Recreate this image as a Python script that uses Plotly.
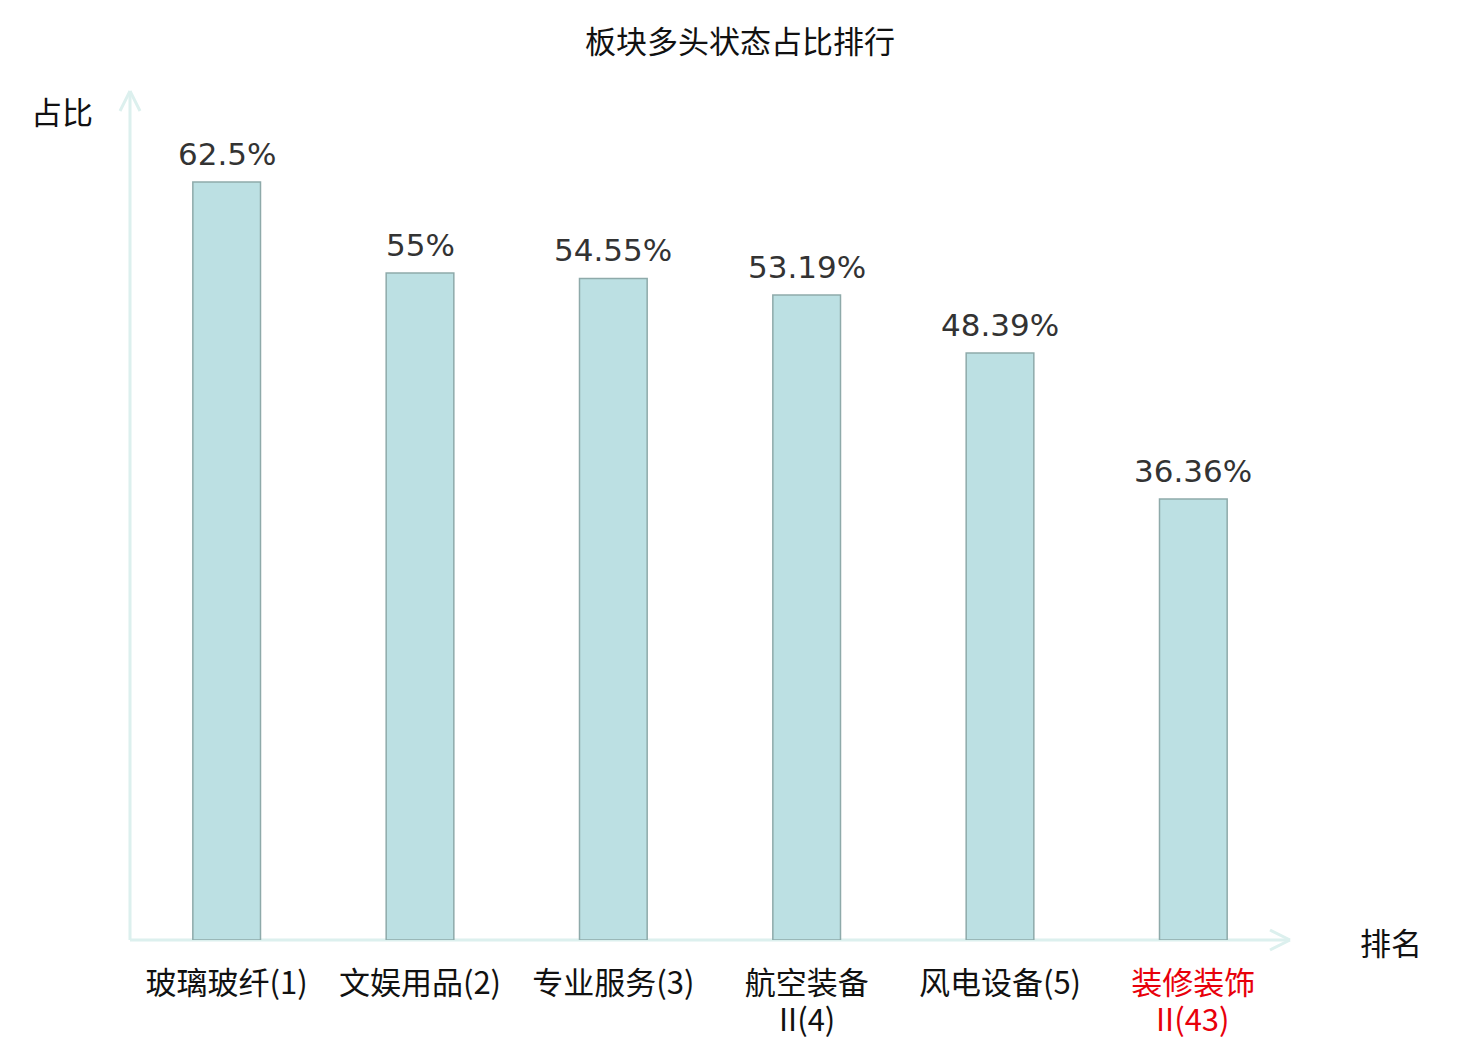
import plotly.graph_objects as go

# 板块多头状态占比排行
sectors = ["玻璃玻纤(1)", "文娱用品(2)", "专业服务(3)", "航空装备", "风电设备(5)", "装修装饰"]
second_line = ["", "", "", "II(4)", "", "II(43)"]
ratios = [62.5, 55, 54.55, 53.19, 48.39, 36.36]
highlight = 5  # 当前板块, 标红

cjk = "Noto Sans CJK SC"
axis_col = "#dcf0ee"
red = "#e8000b"
off = 8  # page body margin

xs = list(range(len(sectors)))
ticktext = [f"<span style='color:{red}'>{s}</span>" if i == highlight else s for i, s in enumerate(sectors)]

fig = go.Figure(go.Bar(
    x=xs, y=ratios,
    width=0.35,
    marker=dict(color="#bce0e3", line=dict(color="#8eaaaa", width=1.5)),
    hoverinfo="x+y",
))

fig.update_xaxes(
    tickvals=xs, ticktext=ticktext,
    range=[-0.5, 5.5], showline=False, showgrid=False, zeroline=False,
    ticks="outside", ticklen=16, tickcolor="rgba(0,0,0,0)",
    tickfont=dict(family=cjk, size=31, color="#111111"),
    automargin=False,
)
fig.update_yaxes(range=[0, 70], visible=False)

# axis lines with open arrowheads (paper coords)
W, H = 1160, 849
ax = dict(type="line", xref="paper", yref="paper", line=dict(color=axis_col, width=3), layer="below")
shapes = [
    dict(ax, x0=0, y0=0, x1=0, y1=1),
    dict(ax, x0=-10 / W, y0=1 - 20 / H, x1=0, y1=1),
    dict(ax, x0=10 / W, y0=1 - 20 / H, x1=0, y1=1),
    dict(ax, x0=0, y0=0, x1=1, y1=0),
    dict(ax, x0=1 - 20 / W, y0=10 / H, x1=1, y1=0),
    dict(ax, x0=1 - 20 / W, y0=-10 / H, x1=1, y1=0),
]

annotations = []
for x, v in zip(xs, ratios):
    annotations.append(dict(
        x=x, y=v, xref="x", yref="y", text=f"{v:g}%", showarrow=False,
        xanchor="center", yanchor="bottom", yshift=8,
        font=dict(family="DejaVu Sans", size=31, color="#333333")))
for x, t in zip(xs, second_line):
    if t:
        col = red if x == highlight else "#111111"
        annotations.append(dict(
            x=x, y=0, xref="x", yref="paper", text=t, showarrow=False,
            xanchor="center", yanchor="middle", yshift=-77,
            font=dict(family=cjk, size=31, color=col)))
annotations += [
    dict(text="占比", xref="paper", yref="paper", x=-0.0302, y=0.9776, xanchor="right", yanchor="middle",
         showarrow=False, font=dict(family=cjk, size=31, color="#111111")),
    dict(text="排名", xref="paper", yref="paper", x=1.087, y=-0.002, xanchor="center", yanchor="middle",
         showarrow=False, font=dict(family=cjk, size=31, color="#111111")),
]

fig.update_layout(
    width=1480, height=1040,
    margin=dict(l=130 - off, r=190 + off, t=91 - off, b=100 + off),
    plot_bgcolor="white", paper_bgcolor="white",
    showlegend=False, shapes=shapes, annotations=annotations,
    title=dict(text="板块多头状态占比排行", xref="container", x=(740 - off) / 1480, xanchor="center",
               yref="container", y=1 - (42 - off) / 1040, yanchor="middle",
               font=dict(family=cjk, size=31, color="#111111")),
)

fig.write_html("out.html")
